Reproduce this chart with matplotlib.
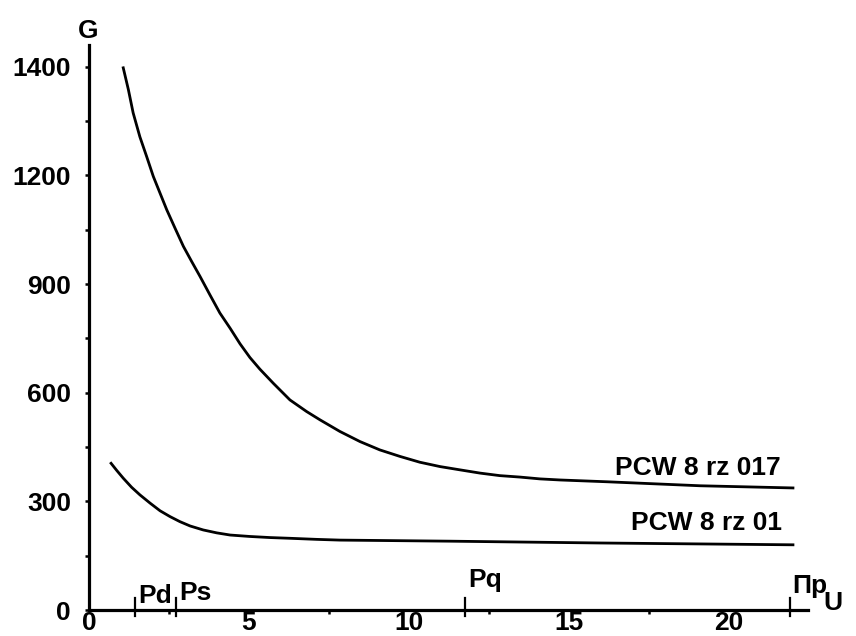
import matplotlib
matplotlib.use("Agg")
import matplotlib.pyplot as plt
import numpy as np

# Curve PCW 8 rz 017 (upper)
u_017 = [1.07, 1.23, 1.38, 1.59, 1.80, 2.01, 2.22, 2.43, 2.69, 2.95,
         3.21, 3.47, 3.78, 4.09, 4.41, 4.72, 5.03, 5.34, 5.76, 6.28,
         6.80, 7.22, 7.84, 8.47, 9.09, 9.72, 10.34, 10.97, 11.59, 12.22,
         12.84, 13.47, 14.09, 14.72, 16.2, 19.1, 22.0]
g_017 = [1398, 1358, 1315, 1271, 1235, 1197, 1151, 1105, 1054, 1004,
         962, 921, 870, 820, 778, 735, 697, 665, 626, 580,
         548, 525, 493, 465, 442, 424, 408, 396, 387, 378,
         371, 367, 362, 359, 354, 343, 337]

# Curve PCW 8 rz 01 (lower)
u_01 = [0.69, 0.87, 1.07, 1.33, 1.59, 1.91, 2.22, 2.53, 2.84, 3.16,
        3.57, 3.99, 4.41, 5.03, 5.66, 6.28, 7.12, 7.84, 11.3, 16.0, 22.0]
g_01 = [405, 385, 364, 339, 318, 295, 274, 258, 244, 232,
        221, 213, 207, 203, 200, 198, 195, 193, 190, 185, 180]

curve_names = ["PCW 8 rz 017", "PCW 8 rz 01"]

# Axis ticks
y_ticks = [0, 300, 600, 900, 1200, 1400]
y_minor = [150, 450, 750, 1050, 1300]
x_ticks = [0, 5, 10, 15, 20]
x_minor = [2.5, 7.5, 12.5, 17.5]

# Marked points on the U axis
point_names = ["Pd", "Ps", "Pq", "\u03a0p"]
point_u = [1.45, 2.72, 11.75, 21.9]


# The G axis is drawn with evenly spaced labels 0..1200 then 1400
def g_fwd(g):
    g = np.asarray(g, dtype=float)
    return np.where(g <= 1200, g / 300.0, 4 + (g - 1200) / 200.0)


def g_inv(p):
    p = np.asarray(p, dtype=float)
    return np.where(p <= 4, p * 300.0, 1200 + (p - 4) * 200.0)


plt.rcParams["font.family"] = ["Liberation Sans", "DejaVu Sans"]
plt.rcParams["font.weight"] = "bold"
fs = 19

fig = plt.figure(figsize=(8.56, 6.36), dpi=100)
ax = fig.add_axes([89 / 856, 26 / 636, 719 / 856, 565 / 636])
ax.set_yscale("function", functions=(g_fwd, g_inv))

ax.plot(u_017, g_017, color="black", lw=2.0, solid_joinstyle="round")
ax.plot(u_01, g_01, color="black", lw=2.0, solid_joinstyle="round")

ax.set_xlim(0, 22.47)
ax.set_ylim(0, 1440)

# Spines
for side in ["top", "right"]:
    ax.spines[side].set_visible(False)
for side in ["left", "bottom"]:
    ax.spines[side].set_linewidth(2.3)

ax.set_yticks(y_ticks)
ax.set_yticklabels([str(v) for v in y_ticks], fontsize=fs, fontweight="bold")
ax.set_yticks(y_minor, minor=True)
ax.set_xticks(x_ticks)
ax.set_xticklabels([str(v) for v in x_ticks], fontsize=fs, fontweight="bold")
ax.set_xticks(x_minor, minor=True)
ax.tick_params(axis="y", which="both", direction="out", length=3, width=1.8,
               pad=10)
ax.tick_params(axis="x", which="major", length=0, pad=1)
ax.tick_params(axis="x", which="minor", direction="out", length=3, width=1.8)

# Axis names
ax.text(-0.001, 1.012, "G", transform=ax.transAxes, ha="center",
        va="baseline", fontsize=fs, fontweight="bold")
ax.text(1.035, 0.0, "U", transform=ax.transAxes, ha="center",
        va="baseline", fontsize=fs, fontweight="bold")

# Marked points on the U axis
trans = ax.get_xaxis_transform()
label_y = [0.012, 0.018, 0.041, 0.030]
for name, u, ly in zip(point_names, point_u, label_y):
    ax.plot([u, u], [-0.011, 0.022], color="black", lw=1.6,
            transform=trans, clip_on=False)
    ax.annotate(name, xy=(u, ly), xycoords=trans, xytext=(2, 0),
                textcoords="offset points", ha="left", va="baseline",
                fontsize=fs, fontweight="bold")

# Curve labels
ax.text(21.6, 373, curve_names[0], ha="right", va="baseline",
        fontsize=fs, fontweight="bold")
ax.text(21.65, 221, curve_names[1], ha="right", va="baseline",
        fontsize=fs, fontweight="bold")

fig.savefig("out.png", dpi=100, facecolor="white")
plt.close(fig)
